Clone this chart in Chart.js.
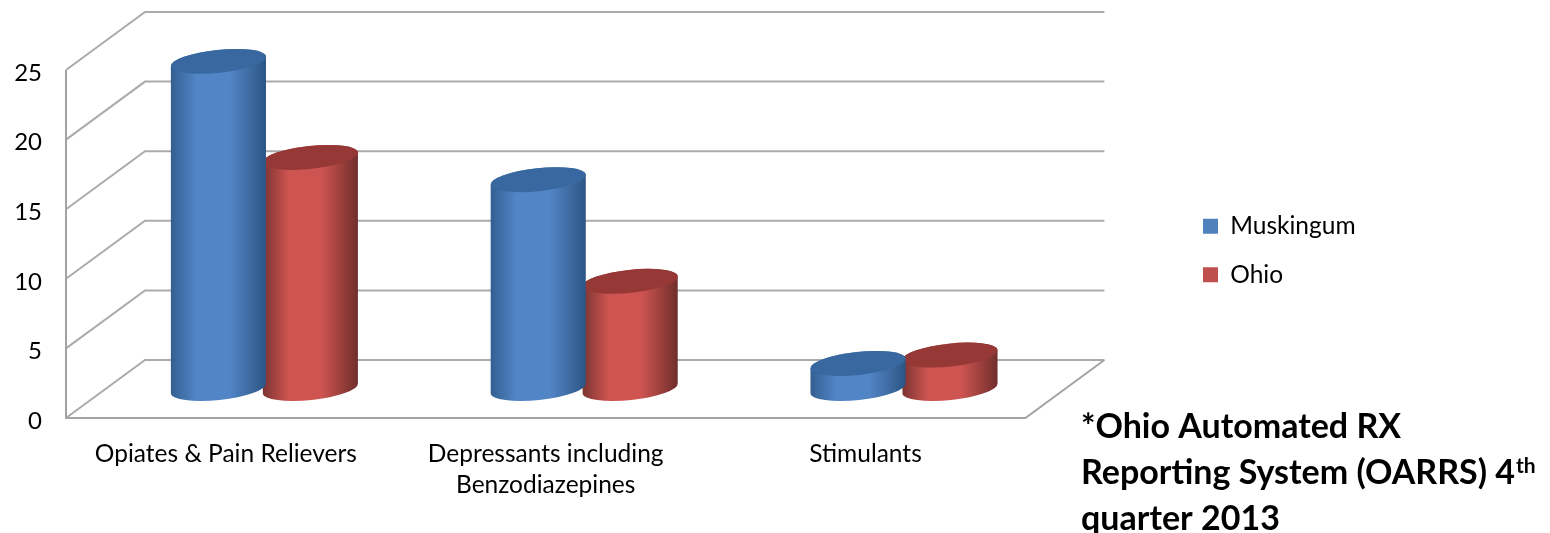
<!DOCTYPE html>
<html><head><meta charset="utf-8">
<style>html,body{margin:0;padding:0;background:#fff}canvas{display:block}</style>
<script src="https://cdn.jsdelivr.net/npm/chart.js@4"></script>
</head><body><canvas id="c" width="1550" height="533"></canvas>
<script>
const categories = [['Opiates & Pain Relievers'], ['Depressants including', 'Benzodiazepines'], ['Stimulants']];
const muskingum = [23.5, 15.0, 1.8];
const ohio = [16.6, 7.7, 2.4];
const yTicks = [0, 5, 10, 15, 20, 25];
const footnoteLines = ['*Ohio Automated RX', 'Reporting System (OARRS) 4', 'quarter 2013'];
const footnoteSup = 'th';

const FONT = 'Lato, Carlito, sans-serif';
const DEPTH_X = 79, DEPTH_Y = -58;
const shades = {
  '#4F81BD': {edgeL:'#335e90', mid:'#5285c6', edgeR:'#2c5584', top:'#38689f'},
  '#C0504D': {edgeL:'#7a3432', mid:'#cd5450', edgeR:'#6f2e2c', top:'#963836'}
};

class CylinderBar extends Chart.BarElement {
  static id = 'cylinderBar';
  draw(ctx) {
    const {x, y, base, width} = this.getProps(['x', 'y', 'base', 'width']);
    const s = shades[this.options.backgroundColor] || shades['#4F81BD'];
    const cx = x + DEPTH_X / 2 - 1, top = y + DEPTH_Y / 2 - 0.5, bot = base + DEPTH_Y / 2 - 0.5;
    const rx = width / 2, ry = 11.5, rot = -6 * Math.PI / 180;
    ctx.save();
    const g = ctx.createLinearGradient(cx - rx, 0, cx + rx, 0);
    g.addColorStop(0, s.edgeL); g.addColorStop(0.27, s.mid); g.addColorStop(0.62, s.mid); g.addColorStop(1, s.edgeR);
    ctx.fillStyle = g;
    ctx.beginPath();
    ctx.ellipse(cx, bot, rx, ry, rot, 0, Math.PI);
    ctx.ellipse(cx, top, rx, ry, rot, Math.PI, 2 * Math.PI);
    ctx.closePath();
    ctx.fill();
    ctx.fillStyle = s.top;
    ctx.beginPath();
    ctx.ellipse(cx, top, rx, ry, rot, 0, 2 * Math.PI);
    ctx.fill();
    ctx.restore();
  }
}
class CylinderController extends Chart.BarController {
  static id = 'cylinder';
  static defaults = Object.assign({}, Chart.BarController.defaults, {dataElementType: 'cylinderBar'});
  static overrides = Chart.BarController.overrides;
}
Chart.register(CylinderBar, CylinderController);

const walls = {
  id: 'walls',
  beforeDatasetsDraw(chart) {
    const {ctx, chartArea: a, scales: {y}} = chart;
    ctx.save();
    ctx.strokeStyle = '#ababab';
    ctx.lineWidth = 2;
    const y0 = y.getPixelForValue(0);
    y.ticks.forEach(t => {
      const p = y.getPixelForValue(t.value);
      ctx.beginPath();
      ctx.moveTo(a.left, p);
      ctx.lineTo(a.left + DEPTH_X, p + DEPTH_Y);
      ctx.lineTo(a.right + DEPTH_X, p + DEPTH_Y);
      ctx.stroke();
    });
    ctx.strokeStyle = '#a3a3a3';
    ctx.beginPath();
    ctx.moveTo(a.left, y.getPixelForValue(y.max));
    ctx.lineTo(a.left, y0);
    ctx.lineTo(a.right, y0);
    ctx.lineTo(a.right + DEPTH_X, y0 + DEPTH_Y);
    ctx.stroke();
    ctx.restore();
  }
};
const footnote = {
  id: 'footnote',
  afterDraw(chart) {
    const ctx = chart.ctx;
    ctx.save();
    ctx.fillStyle = '#000';
    ctx.textBaseline = 'alphabetic';
    ctx.textAlign = 'left';
    ctx.font = 'bold 34px ' + FONT;
    const ys = [438, 484, 530];
    footnoteLines.forEach((l, i) => ctx.fillText(l, 1081, ys[i]));
    const w = ctx.measureText(footnoteLines[1]).width;
    ctx.font = 'bold 21px ' + FONT;
    ctx.fillText(footnoteSup, 1081 + w + 1, 473);
    ctx.restore();
  }
};
const moveLegend = {
  id: 'moveLegend',
  afterLayout(chart) {
    const l = chart.legend, w = l.right - l.left, h = l.bottom - l.top;
    l.left = 1179; l.right = 1179 + w; l.top = 190; l.bottom = 190 + h;
  }
};

new Chart(document.getElementById('c'), {
  type: 'cylinder',
  data: {
    labels: categories,
    datasets: [
      {label: 'Muskingum', data: muskingum, backgroundColor: '#4F81BD', categoryPercentage: 0.575, barPercentage: 1.04, clip: false},
      {label: 'Ohio', data: ohio, backgroundColor: '#C0504D', categoryPercentage: 0.575, barPercentage: 1.04, clip: false}
    ]
  },
  options: {
    responsive: false,
    animation: false,
    layout: {padding: {left: 0, top: 70, right: 338, bottom: 0}},
    plugins: {
      tooltip: {enabled: false},
      legend: {
        position: 'right', align: 'start',
        labels: {boxWidth: 15, boxHeight: 15, padding: 24, color: '#000', font: {family: FONT, size: 24.5}}
      }
    },
    scales: {
      x: {
        grid: {display: false}, border: {display: false},
        afterFit(s) { s.height = 115; },
        ticks: {color: '#000', padding: 12, maxRotation: 0, autoSkip: false, font: {family: FONT, size: 24.5, lineHeight: 1.28}}
      },
      y: {
        min: 0, max: 25,
        grid: {display: false}, border: {display: false},
        afterBuildTicks(s) { s.ticks = yTicks.map(v => ({value: v})); },
        afterFit(s) { s.width = 66; },
        ticks: {color: '#000', padding: 16, labelOffset: 3, font: {family: FONT, size: 24}}
      }
    }
  },
  plugins: [walls, footnote, moveLegend]
});
</script></body></html>
